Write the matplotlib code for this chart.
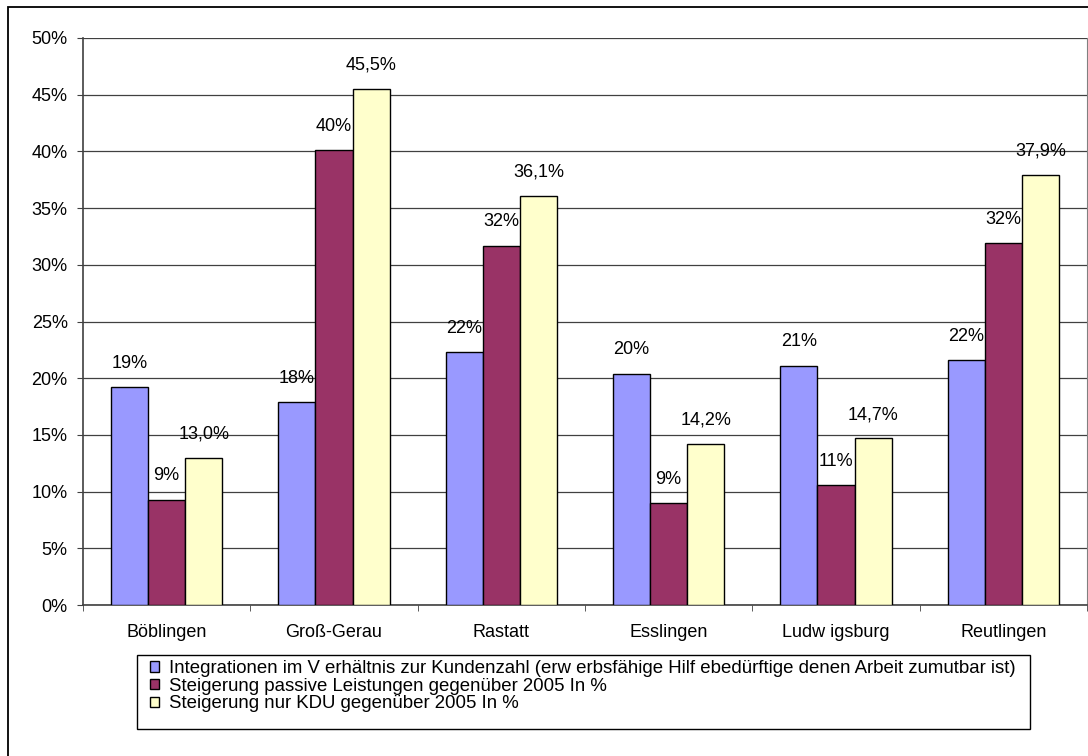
import matplotlib.pyplot as plt
import numpy as np
from matplotlib.patches import Rectangle
from matplotlib.ticker import FixedLocator, FuncFormatter

plt.rcParams['font.family'] = ['Liberation Sans', 'DejaVu Sans']
plt.rcParams['font.size'] = 13

# Daten
kreise = ["Böblingen", "Groß-Gerau", "Rastatt", "Esslingen", "Ludw igsburg", "Reutlingen"]
integrationen = [19.2, 17.9, 22.3, 20.4, 21.1, 21.6]
passive_leistungen = [9.3, 40.1, 31.7, 9.0, 10.6, 31.9]
kdu = [13.0, 45.5, 36.1, 14.2, 14.7, 37.9]

legende = [
    "Integrationen im V erhältnis zur Kundenzahl (erw erbsfähige Hilf ebedürftige denen Arbeit zumutbar ist)",
    "Steigerung passive Leistungen gegenüber 2005 In %",
    "Steigerung nur KDU gegenüber 2005 In %",
]
farben = ["#9999FF", "#993366", "#FFFFCC"]

fig = plt.figure(figsize=(10.88, 7.56), dpi=100)
ax = fig.add_axes([83 / 1088, 1 - 605 / 756, 1004 / 1088, 567 / 756])

x = np.arange(len(kreise))
w = 1 / 4.5  # Abstand 150 %

reihen = [integrationen, passive_leistungen, kdu]
for i, (werte, farbe, name) in enumerate(zip(reihen, farben, legende)):
    bars = ax.bar(x + (i - 1) * w, werte, w, color=farbe, edgecolor="black",
                  linewidth=1.0, label=name, zorder=3)
    for b, v in zip(bars, werte):
        if i < 2:
            txt = f"{int(v + 0.5)}%"
        else:
            txt = f"{v:.1f}%".replace(".", ",")
        ax.annotate(txt, (b.get_x() + b.get_width() / 2, v), xytext=(0, 11),
                    textcoords="offset points", ha="center", va="bottom",
                    fontsize=13, zorder=4)

# Achsen
ax.set_xlim(-0.5, len(kreise) - 0.5)
ax.set_ylim(0, 50)
ax.set_yticks(np.arange(0, 51, 5))
ax.yaxis.set_major_formatter(FuncFormatter(lambda v, p: f"{v:.0f}%"))
ax.grid(axis="y", color="#404040", linewidth=0.9, zorder=0)

ax.set_xticks(x)
ax.set_xticklabels(kreise)
ax.xaxis.set_minor_locator(FixedLocator(np.arange(-0.5, len(kreise), 1)))
ax.tick_params(axis="x", which="major", length=0, pad=14)
ax.tick_params(axis="x", which="minor", length=4, color="#404040", direction="out")
ax.tick_params(axis="y", length=4, color="#404040", pad=7)

for s in ["left", "bottom"]:
    ax.spines[s].set_color("#404040")
    ax.spines[s].set_linewidth(1.2)
ax.spines["right"].set_color("#808080")
ax.spines["top"].set_visible(False)

# Legende mit eigenem Rahmen
leg = ax.legend(loc="upper left", bbox_to_anchor=(150 / 1088, 1 - 660 / 756),
                bbox_transform=fig.transFigure, frameon=False,
                handlelength=0.5, handleheight=0.5, handletextpad=0.5,
                labelspacing=0.04, borderpad=0, borderaxespad=0, fontsize=13.4)
fig.patches.append(Rectangle((137 / 1088, 1 - 729 / 756), 893 / 1088, 74 / 756,
                             transform=fig.transFigure, fill=False,
                             edgecolor="black", linewidth=1.0))

# Rahmen um das Diagramm
fig.patches.append(Rectangle((8 / 1088, -0.1), 1.2, 1.1 - 7 / 756,
                             transform=fig.transFigure, fill=False,
                             edgecolor="black", linewidth=1.3, clip_on=False))

fig.savefig("out.png", dpi=100)
